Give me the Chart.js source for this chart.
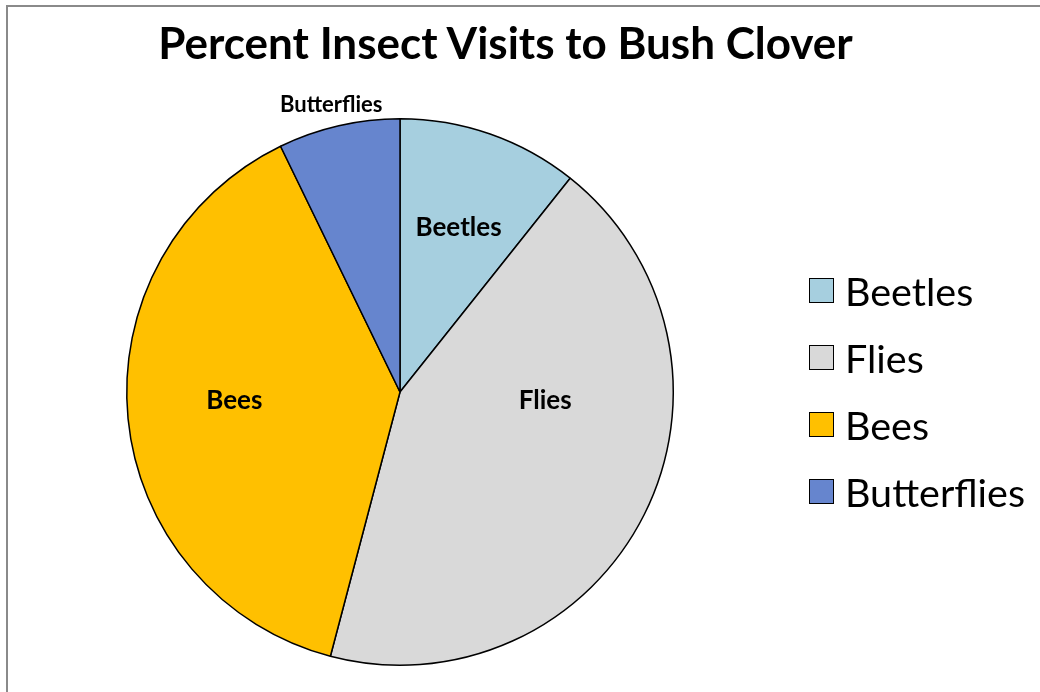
<!DOCTYPE html>
<html>
<head>
<meta charset="utf-8">
<title>Percent Insect Visits to Bush Clover</title>
<script src="https://cdn.jsdelivr.net/npm/chart.js@4.4.1/dist/chart.umd.min.js"></script>
<style>
  html, body { margin: 0; padding: 0; background: #fff; }
  body { width: 1040px; height: 692px; position: relative; overflow: hidden; font-family: Lato, "Noto Sans", sans-serif; }
  #frame { position: absolute; left: 6px; top: 5px; width: 1100px; height: 720px;
           border-left: 2px solid #8a8a8a; border-top: 2px solid #8a8a8a; }
  #chartWrap { position: absolute; left: 0; top: 0; width: 1040px; height: 692px; }
  #title { position: absolute; left: 0; width: 1011px; top: 16px; text-align: center;
           font: bold 44px Lato, sans-serif; line-height: 1.2; color: #000; white-space: nowrap; }
  #legend { position: absolute; left: 809px; top: 0; }
  .item { position: absolute; left: 0; height: 48px; display: flex; align-items: center; white-space: nowrap;
          font: 39.5px Lato, sans-serif; color: #000; }
  .swatch { width: 23px; height: 23px; border: 1.5px solid #000; box-sizing: content-box; margin-right: 11px; }
</style>
</head>
<body>
<div id="frame"></div>
<div id="chartWrap"><canvas id="pie" width="1040" height="692"></canvas></div>
<div id="title"></div>
<div id="legend"></div>
<script>
// Insect groups and their share of visits (percent)
const chartTitle = 'Percent Insect Visits to Bush Clover';
const categories = ['Beetles', 'Flies', 'Bees', 'Butterflies'];
const visitPercent = [10.7, 43.4, 38.7, 7.2];
const sliceColors = ['#A6CFDF', '#D9D9D9', '#FFC000', '#6685CE'];

// Label placement per slice: angular shift from the slice middle (deg), distance as a fraction of the radius, font size
const labelPlacement = [
  { shift: 0.4, dist: 0.637, size: 26 },
  { shift: -23.4, dist: 0.532, size: 26 },
  { shift: 2.6, dist: 0.607, size: 26 },
  { shift: -0.5, dist: 1.082, size: 22 }
];

document.getElementById('title').textContent = chartTitle;

// Legend built from the same category and colour lists
const legendEl = document.getElementById('legend');
const legendCenter = [290, 357, 424, 491];
categories.forEach((name, i) => {
  const row = document.createElement('div');
  row.className = 'item';
  row.style.top = (legendCenter[i] - 24) + 'px';
  const sw = document.createElement('span');
  sw.className = 'swatch';
  sw.style.background = sliceColors[i];
  const tx = document.createElement('span');
  tx.textContent = name;
  row.appendChild(sw);
  row.appendChild(tx);
  legendEl.appendChild(row);
});

// Category names written onto (or just outside) each slice
const sliceLabels = {
  id: 'sliceLabels',
  afterDatasetsDraw(chart) {
    const ctx = chart.ctx;
    const arcs = chart.getDatasetMeta(0).data;
    ctx.save();
    ctx.fillStyle = '#000';
    ctx.textAlign = 'center';
    ctx.textBaseline = 'middle';
    arcs.forEach((arc, i) => {
      const p = labelPlacement[i];
      const mid = (arc.startAngle + arc.endAngle) / 2 + p.shift * Math.PI / 180;
      const r = arc.outerRadius * p.dist;
      ctx.font = 'bold ' + p.size + 'px Lato, sans-serif';
      ctx.fillText(chart.data.labels[i], arc.x + Math.cos(mid) * r, arc.y + Math.sin(mid) * r);
    });
    ctx.restore();
  }
};

new Chart(document.getElementById('pie'), {
  type: 'pie',
  data: {
    labels: categories,
    datasets: [{
      data: visitPercent,
      backgroundColor: sliceColors,
      borderColor: '#000',
      borderWidth: 1.5
    }]
  },
  options: {
    responsive: false,
    animation: false,
    layout: { padding: { left: 126, top: 118, right: 366, bottom: 26 } },
    plugins: {
      legend: { display: false },
      title: { display: false },
      tooltip: { enabled: false }
    }
  },
  plugins: [sliceLabels]
});
</script>
</body>
</html>
